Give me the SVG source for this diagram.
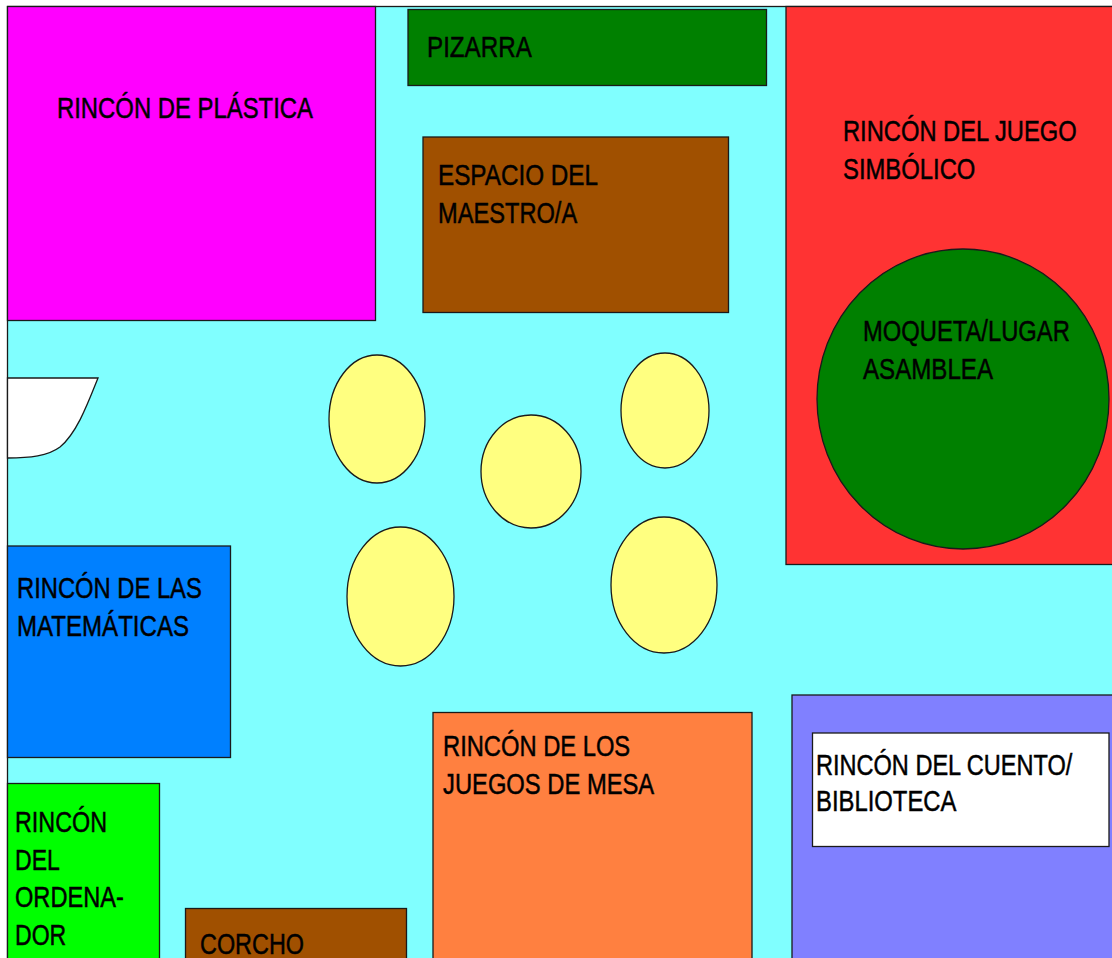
<svg xmlns="http://www.w3.org/2000/svg" width="1112" height="958" viewBox="0 0 1112 958">
<style>
.s{stroke:#1a1a1a;stroke-width:1.3}
text{font-family:"Liberation Sans",Arial,sans-serif;font-size:30px;fill:#000;stroke:#000;stroke-width:0.5}
</style>
<rect x="0" y="0" width="1112" height="958" fill="#ffffff"/>
<rect id="floor" class="s" x="7.5" y="6.5" width="1120" height="970" fill="#80ffff"/>
<g id="plastica">
<rect class="s" x="7.5" y="6.5" width="368" height="314" fill="#ff00ff"/>
<text transform="translate(57,118) scale(0.8,1)" textLength="320" lengthAdjust="spacingAndGlyphs">RINCÓN DE PLÁSTICA</text>
</g>
<g id="pizarra">
<rect class="s" x="408" y="9.5" width="358.5" height="76" fill="#008000"/>
<text transform="translate(427,57) scale(0.8,1)" textLength="131" lengthAdjust="spacingAndGlyphs">PIZARRA</text>
</g>
<g id="maestro">
<rect class="s" x="423" y="137" width="305.5" height="175.5" fill="#a05000"/>
<text transform="translate(438,185) scale(0.8,1)" textLength="200" lengthAdjust="spacingAndGlyphs">ESPACIO DEL</text>
<text transform="translate(438,223) scale(0.8,1)" textLength="174" lengthAdjust="spacingAndGlyphs">MAESTRO/A</text>
</g>
<g id="simbolico">
<rect class="s" x="786" y="6.5" width="340" height="558" fill="#ff3333"/>
<text transform="translate(843,141) scale(0.8,1)" textLength="292" lengthAdjust="spacingAndGlyphs">RINCÓN DEL JUEGO</text>
<text transform="translate(843,178.5) scale(0.8,1)" textLength="165.5" lengthAdjust="spacingAndGlyphs">SIMBÓLICO</text>
</g>
<g id="moqueta">
<ellipse class="s" cx="963" cy="399" rx="146" ry="150" fill="#008000"/>
<text transform="translate(863,341) scale(0.8,1)" textLength="258.5" lengthAdjust="spacingAndGlyphs">MOQUETA/LUGAR</text>
<text transform="translate(863,378.5) scale(0.8,1)" textLength="162.5" lengthAdjust="spacingAndGlyphs">ASAMBLEA</text>
</g>
<g id="puerta">
<path class="s" d="M7.5,378 L98,378 C88,403 77,433 60,447 C48,456 30,458 7.5,458 Z" fill="#ffffff"/>
</g>
<g id="mesas">
<ellipse class="s" cx="377" cy="419" rx="48" ry="64" fill="#ffff80"/>
<ellipse class="s" cx="531" cy="471.5" rx="50" ry="56.5" fill="#ffff80"/>
<ellipse class="s" cx="665" cy="410.5" rx="44" ry="57.5" fill="#ffff80"/>
<ellipse class="s" cx="400.5" cy="596.5" rx="53.5" ry="69.5" fill="#ffff80"/>
<ellipse class="s" cx="664" cy="585" rx="53" ry="68" fill="#ffff80"/>
</g>
<g id="matematicas">
<rect class="s" x="7.5" y="546" width="223" height="211.5" fill="#0080ff"/>
<text transform="translate(17,597.5) scale(0.8,1)" textLength="231" lengthAdjust="spacingAndGlyphs">RINCÓN DE LAS</text>
<text transform="translate(17,635.5) scale(0.8,1)" textLength="215" lengthAdjust="spacingAndGlyphs">MATEMÁTICAS</text>
</g>
<g id="ordenador">
<rect class="s" x="7.5" y="783.5" width="152" height="200" fill="#00ff00"/>
<text transform="translate(15,832) scale(0.8,1)" textLength="115" lengthAdjust="spacingAndGlyphs">RINCÓN</text>
<text transform="translate(15,869.5) scale(0.8,1)" textLength="56" lengthAdjust="spacingAndGlyphs">DEL</text>
<text transform="translate(15,907) scale(0.8,1)" textLength="136" lengthAdjust="spacingAndGlyphs">ORDENA-</text>
<text transform="translate(15,945) scale(0.8,1)" textLength="64" lengthAdjust="spacingAndGlyphs">DOR</text>
</g>
<g id="corcho">
<rect class="s" x="185.5" y="908.5" width="221" height="80" fill="#a05000"/>
<text transform="translate(200,954) scale(0.8,1)" textLength="130" lengthAdjust="spacingAndGlyphs">CORCHO</text>
</g>
<g id="juegos-mesa">
<rect class="s" x="433" y="712.5" width="319" height="280" fill="#ff8040"/>
<text transform="translate(443,755.5) scale(0.8,1)" textLength="234" lengthAdjust="spacingAndGlyphs">RINCÓN DE LOS</text>
<text transform="translate(443,793.5) scale(0.8,1)" textLength="264" lengthAdjust="spacingAndGlyphs">JUEGOS DE MESA</text>
</g>
<g id="cuento">
<rect class="s" x="792" y="695" width="340" height="300" fill="#8080ff"/>
<rect class="s" x="812.5" y="733" width="296.5" height="113.5" fill="#ffffff"/>
<text transform="translate(816,775) scale(0.8,1)" textLength="320.5" lengthAdjust="spacingAndGlyphs">RINCÓN DEL CUENTO/</text>
<text transform="translate(816,811) scale(0.8,1)" textLength="175.5" lengthAdjust="spacingAndGlyphs">BIBLIOTECA</text>
</g>
</svg>
